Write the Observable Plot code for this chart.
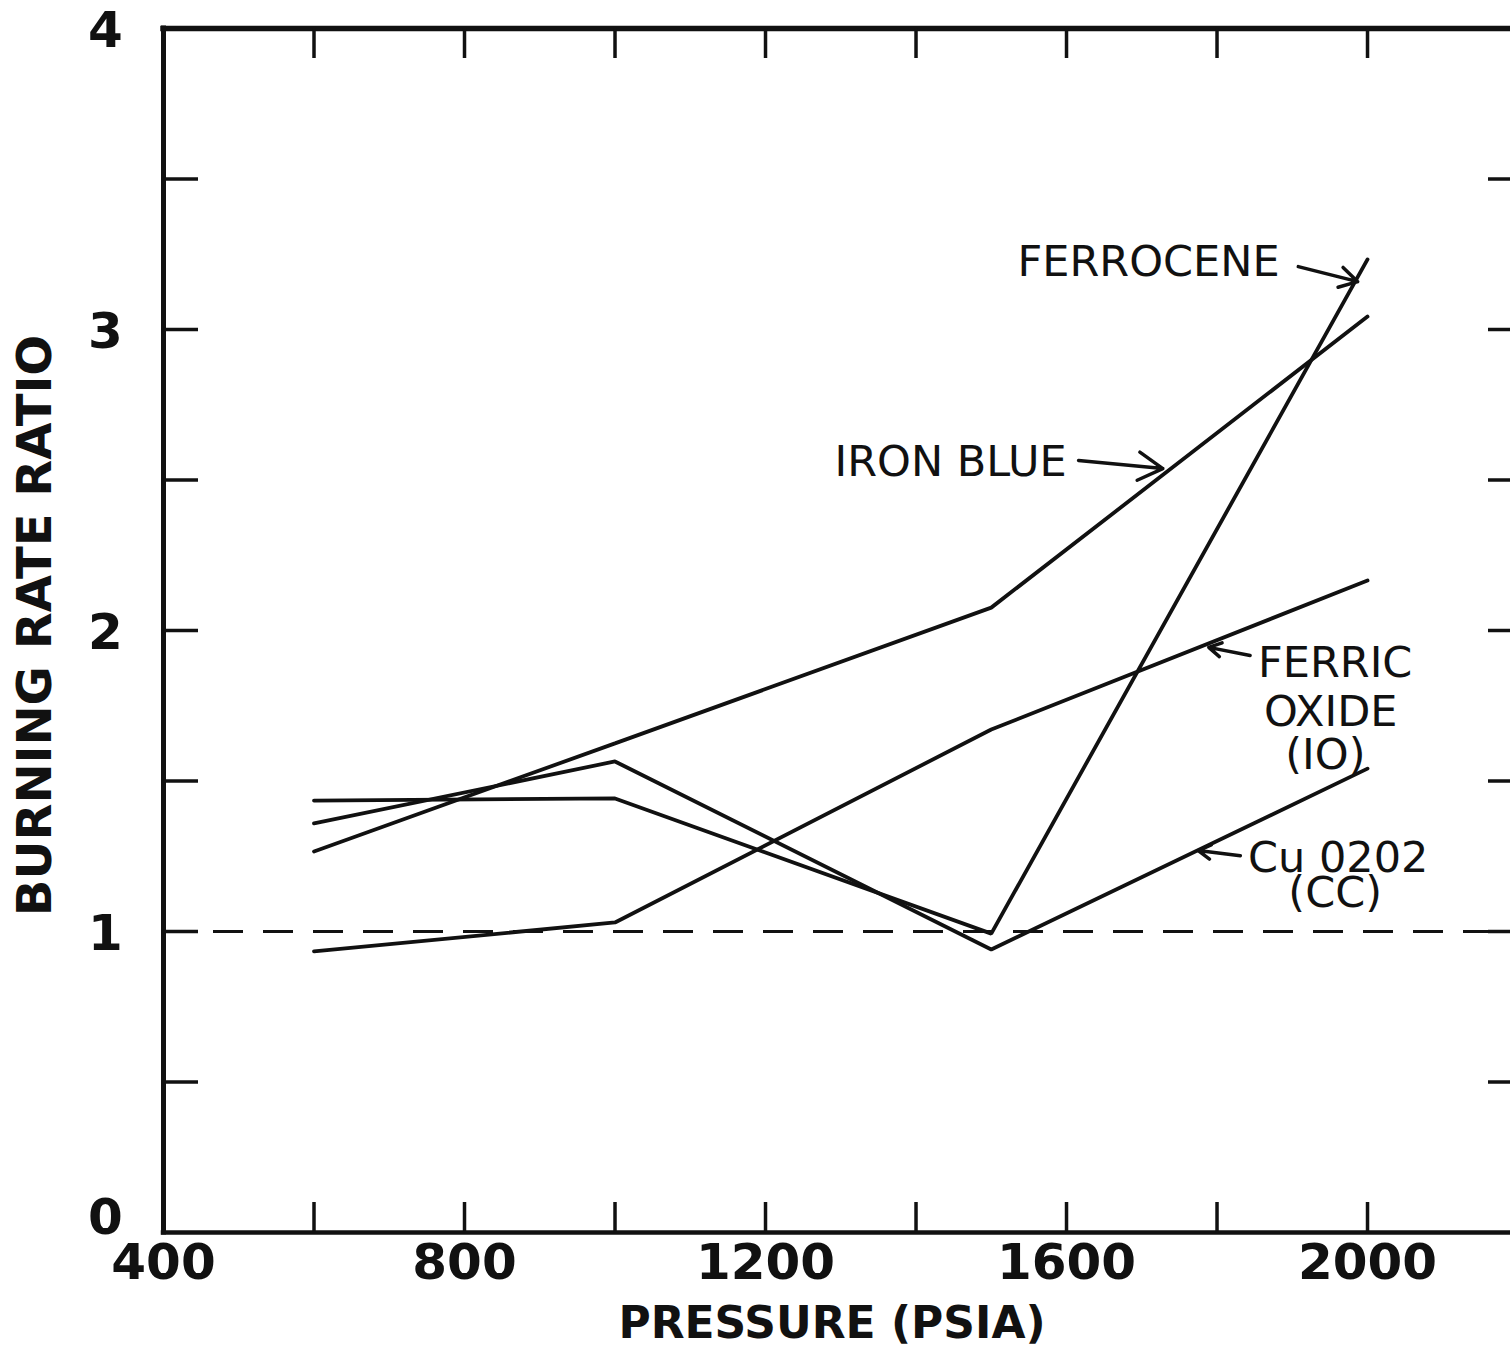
<!DOCTYPE html>
<html>
<head>
<meta charset="utf-8">
<script src="https://cdn.jsdelivr.net/npm/d3@7"></script>
<script src="https://cdn.jsdelivr.net/npm/@observablehq/plot@0.6"></script>
<style>
  html, body { margin: 0; padding: 0; background: #fff; }
  #chart svg { display: block; }
</style>
</head>
<body>
<div id="chart"></div>
<script>
// Data
const pressure = [600, 1000, 1500, 2000];
const ferrocene = [1.435, 1.442, 0.993, 3.233];
const ironBlue = [1.266, 1.625, 2.076, 3.043];
const ferricOxide = [0.934, 1.030, 1.671, 2.166];
const cu0202 = [1.359, 1.565, 0.940, 1.541];
const seriesNames = ["FERROCENE", "IRON BLUE", "FERRIC OXIDE (IO)", "Cu 0202 (CC)"];

// Axis ticks
const xTickLabels = [400, 800, 1200, 1600, 2000];
const yTickLabels = [1, 2, 3, 4];
const yZeroLabel = [0];
const xMinorTicks = [600, 800, 1000, 1200, 1400, 1600, 1800, 2000];
const yMinorTicks = [0.5, 1, 1.5, 2, 2.5, 3, 3.5];
const referenceLevel = [1];

// Annotation labels
const labelText = ["FERROCENE", "IRON BLUE", "FERRIC", "OXIDE", "(IO)", "Cu 0202", "(CC)"];
const labelX = [1709, 1446, 1957, 1951, 1944, 1961, 1957];
const labelY = [3.223, 2.558, 1.890, 1.728, 1.585, 1.243, 1.126];

// Annotation arrows
const arrowX1 = [1908, 1616, 1844, 1831];
const arrowY1 = [3.209, 2.565, 1.917, 1.252];
const arrowX2 = [1987, 1728, 1789, 1775];
const arrowY2 = [3.159, 2.538, 1.944, 1.269];

const allSeries = [ferrocene, ironBlue, ferricOxide, cu0202];
const rows = [];
allSeries.forEach((vals, i) => {
  vals.forEach((v, j) => rows.push({series: seriesNames[i], pressure: pressure[j], ratio: v}));
});
const labels = labelText.map((t, i) => ({text: t, x: labelX[i], y: labelY[i]}));
const arrows = arrowX1.map((x1, i) => ({x1, y1: arrowY1[i], x2: arrowX2[i], y2: arrowY2[i]}));

const W = 1510, H = 1348;
const mL = 163, mR = 0, mT = 28, mB = 116;
const plotW = W - mL - mR, plotH = H - mT - mB;

const chart = Plot.plot({
  width: W,
  height: H,
  marginLeft: mL,
  marginRight: mR,
  marginTop: mT,
  marginBottom: mB,
  style: {fontFamily: "'DejaVu Sans', sans-serif", fontSize: "44px", color: "#111", background: "#fff", overflow: "visible"},
  x: {domain: [400, 2190], axis: null},
  y: {domain: [0, 4], axis: null},
  marks: [
    // frame
    Plot.ruleY([0], {stroke: "#111", strokeWidth: 4.5, strokeLinecap: "square"}),
    Plot.ruleY([4], {stroke: "#111", strokeWidth: 5.5, strokeLinecap: "square"}),
    Plot.ruleX([400], {stroke: "#111", strokeWidth: 5, strokeLinecap: "square"}),
    // inward ticks
    Plot.tickY(yMinorTicks, {y: d => d, insetRight: plotW - 35, stroke: "#111", strokeWidth: 3.5}),
    Plot.tickY(yMinorTicks, {y: d => d, insetLeft: plotW - 22, stroke: "#111", strokeWidth: 3.5}),
    Plot.tickX(xMinorTicks, {x: d => d, insetBottom: plotH - 30, stroke: "#111", strokeWidth: 3.5}),
    Plot.tickX(xMinorTicks, {x: d => d, insetTop: plotH - 30, stroke: "#111", strokeWidth: 3.5}),
    // tick labels
    Plot.text(xTickLabels, {x: d => d, text: d => String(d), frameAnchor: "bottom", textAnchor: "middle", dy: 46, fontSize: 50, fontWeight: "bold", fill: "#111"}),
    Plot.text(yTickLabels, {y: d => d, text: d => String(d), frameAnchor: "left", textAnchor: "middle", dx: -58, dy: 2, fontSize: 50, fontWeight: "bold", fill: "#111"}),
    Plot.text(yZeroLabel, {y: d => d, text: d => String(d), frameAnchor: "left", textAnchor: "middle", dx: -58, dy: -15, fontSize: 50, fontWeight: "bold", fill: "#111"}),
    // axis titles
    Plot.text(["BURNING RATE RATIO"], {text: d => d, frameAnchor: "left", textAnchor: "middle", dx: -128, dy: -5, rotate: -90, fontSize: 48, fontWeight: "bold", fill: "#111"}),
    Plot.text(["PRESSURE (PSIA)"], {text: d => d, frameAnchor: "bottom", textAnchor: "middle", dx: -5, dy: 105, fontSize: 44, fontWeight: "bold", fill: "#111"}),
    // reference dashed line
    Plot.ruleY(referenceLevel, {stroke: "#111", strokeWidth: 3, strokeDasharray: "30,20"}),
    // data lines
    Plot.line(rows, {x: "pressure", y: "ratio", z: "series", stroke: "#111", strokeWidth: 3.8, strokeLinejoin: "miter"}),
    // annotations
    Plot.text(labels, {x: "x", y: "y", text: "text", fontSize: 43, fill: "#111"}),
    Plot.arrow(arrows, {x1: "x1", y1: "y1", x2: "x2", y2: "y2", stroke: "#111", strokeWidth: 3.5, headLength: 18, bend: 0})
  ]
});
document.getElementById("chart").appendChild(chart);
</script>
</body>
</html>
